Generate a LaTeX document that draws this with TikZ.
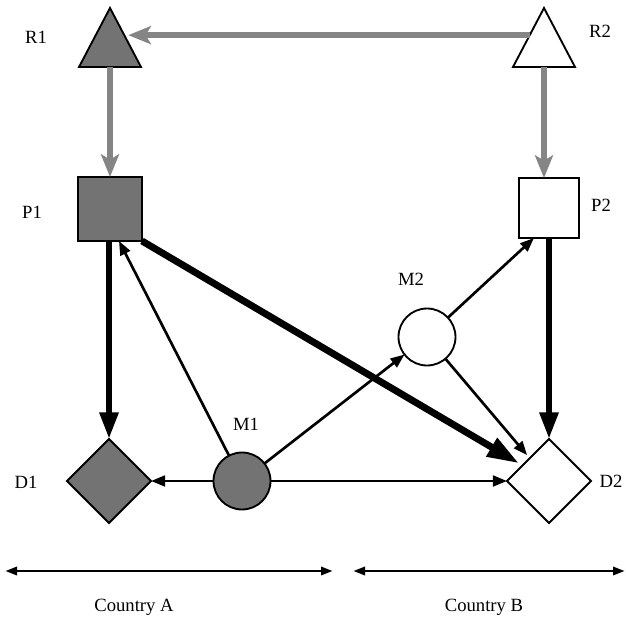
\documentclass[tikz,border=0pt]{standalone}
\usepackage{fontspec}
\setmainfont{Liberation Serif}
\usetikzlibrary{arrows.meta,shapes.geometric,calc}
\begin{document}
\begin{tikzpicture}[x=0.75pt,y=-0.75pt,
  every node/.style={inner sep=0pt, outer sep=0pt},
  shaded/.style={fill=black!55},
  shapeline/.style={draw=black, line width=1.4pt},
  tri/.style={shapeline, isosceles triangle, isosceles triangle stretches,
    shape border rotate=90, minimum width=46.5pt, minimum height=44.25pt},
  box/.style={shapeline, rectangle, minimum size=#1},
  dia/.style={shapeline, diamond, minimum width=63pt, minimum height=63pt},
  disc/.style={shapeline, circle, minimum size=42.75pt},
  lbl/.style={font=\fontsize{14}{16}\selectfont},
  thinarrow/.style={line width=2pt, -{Triangle[length=10.5pt,width=8pt]}},
  heavy/.style={line width=4.5pt, -{Triangle[length=20pt,width=13.5pt]}},
  heavier/.style={line width=5.2pt, -{Triangle[length=24pt,width=15pt]}},
  supply/.style={draw=black!48, line width=5pt, -{Stealth[length=17pt,width=13.5pt,inset=4pt]}},
  span/.style={line width=2.2pt, {Triangle[length=9pt,width=6pt]}-{Triangle[length=9pt,width=6pt]}}
]
\useasboundingbox (0,0) rectangle (626,617);

% resources
\node[tri, shaded, anchor=apex] (R1) at (110,8) {};
\node[tri, fill=white, anchor=apex] (R2) at (544,8) {};
% producers
\node[box=48pt, shaded] (P1) at (110,209) {};
\node[box=45pt, fill=white] (P2) at (549,208) {};
% markets
\node[disc, shaded] (M1) at (242,481) {};
\node[disc, fill=white] (M2) at (427,337) {};
% destinations
\node[dia, shaded] (D1) at (109,481) {};
\node[dia, fill=white] (D2) at (549,481) {};

% labels
\node[lbl] (lR1) at (36,37) {R1};
\node[lbl] (lR2) at (600,31) {R2};
\node[lbl] (lP1) at (32,212) {P1};
\node[lbl] (lP2) at (601,205) {P2};
\node[lbl] (lD1) at (26,482) {D1};
\node[lbl] (lD2) at (611,481) {D2};
\node[lbl] (lM1) at (246,424) {M1};
\node[lbl] (lM2) at (411,279) {M2};

% resource flows
\draw[supply, shorten >=3pt] ($(R2.apex)!0.46!(R2.left corner)$) -- ($(R1.apex)!0.46!(R1.right corner)$);
\draw[supply] (R1.lower side) -- (R1.lower side |- P1.north);
\draw[supply] (R2.lower side) -- (R2.lower side |- P2.north);

% product flows
\draw[heavy] (P1.south -| D1.north) -- (D1.north);
\draw[heavy] (P2.south) -- (D2.north);
\draw[heavier, shorten >=3pt] (P1.south east) -- (D2);
\draw[thinarrow] (M1) -- ($(P1.south)+(9,0)$);
\draw[thinarrow] (M1) -- (D1);
\draw[thinarrow] (M1) -- (D2);
\draw[thinarrow] (M1) -- (M2);
\draw[thinarrow] (M2) -- ($(P2.south west)+(15,0)$);
\draw[thinarrow, shorten >=3pt] (M2) -- (D2);

% country extents
\coordinate (a1) at (5,571);
\coordinate (a2) at (333,571);
\coordinate (b1) at (353,571);
\coordinate (b2) at (625,571);
\draw[span] (a1) -- (a2);
\draw[span] (b1) -- (b2);
\node[lbl] (cA) at (134,607) {Country A};
\node[lbl] (cB) at (484,607) {Country B};
\end{tikzpicture}
\end{document}
